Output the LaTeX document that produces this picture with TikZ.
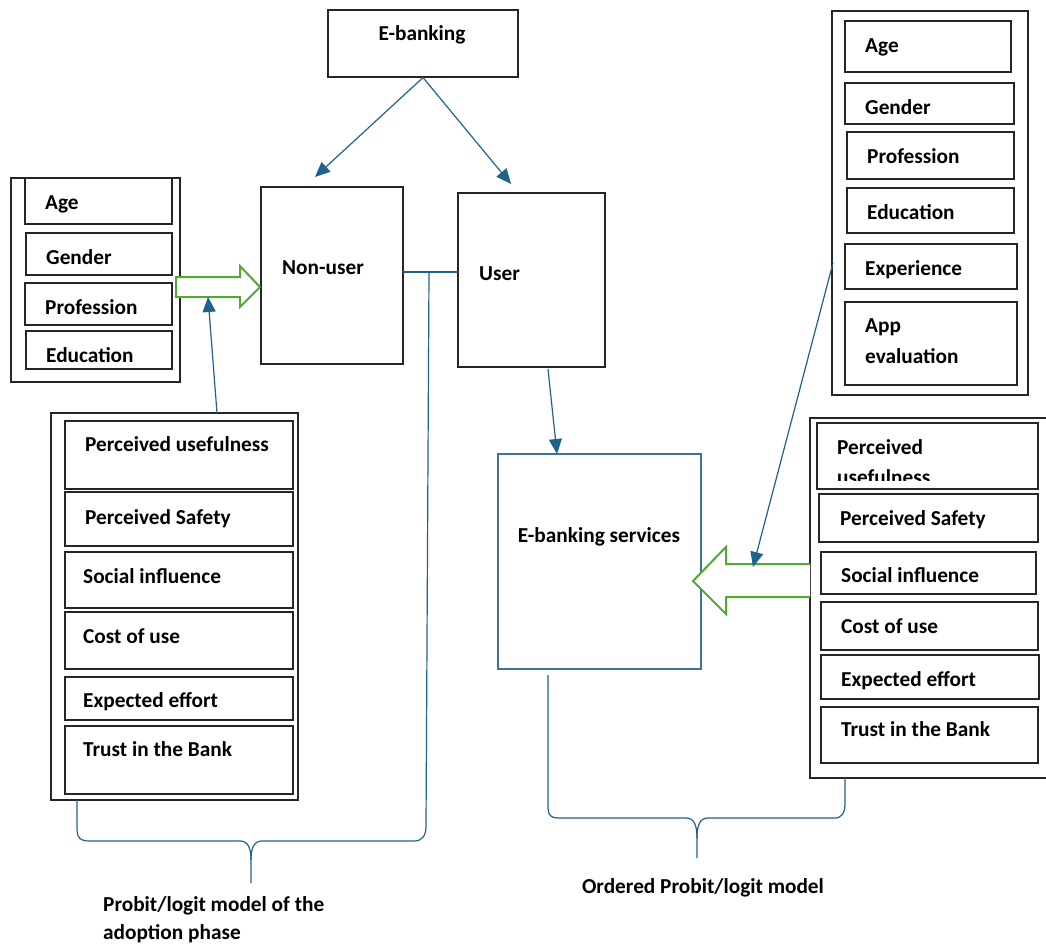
\documentclass[tikz,border=0pt]{standalone}
\usepackage{fontspec}
\setmainfont{Carlito}
\usetikzlibrary{fit,arrows.meta}
\definecolor{linkblue}{RGB}{31,99,140}
\definecolor{svcblue}{RGB}{65,113,156}
\definecolor{arrgreen}{RGB}{84,168,52}
\tikzset{
  bx/.style={draw=black!85, line width=1.1pt, inner sep=0pt},
  grp/.style={draw=black!85, line width=1.1pt, inner sep=0pt},
  txt/.style={anchor=mid west, inner sep=0pt, yshift=-5pt, font=\bfseries\fontsize{21.3}{30}\selectfont},
  ctxt/.style={anchor=mid, inner sep=0pt, yshift=-5pt, font=\bfseries\fontsize{21.3}{30}\selectfont},
  conn/.style={draw=linkblue, line width=1.2pt},
  arr/.style={conn, -{Triangle[length=15pt,width=13pt]}},
  hollow/.style={draw=arrgreen, line width=2pt, fill=white, line join=miter}
}
\begin{document}
\begin{tikzpicture}[x=1pt,y=-1pt]
\useasboundingbox (0,0) rectangle (1046,947);
% top
\node[bx, fit={(328,10) (518,77)}] (eb) {};
\node[ctxt] (teb) at (422,33) {E-banking};
\node[bx, fit={(261,187) (403,364)}] (nu) {};
\node[txt] (tnu) at (282,267) {Non-user};
\node[bx, fit={(458,193) (605,367)}] (us) {};
\node[txt] (tus) at (479,273) {User};
\coordinate (nutip) at (315,177);
\coordinate (ustip) at (511,184);
\draw[arr] (eb.south) -- (nutip);
\draw[arr] (eb.south) -- (ustip);
% left demographics
\node[grp, fit={(11,178) (180,382)}] (ldem) {};
\node[bx, fit={(25,178) (172,224)}] (lage) {};
\node[bx, fit={(26,233) (172,275)}] (lgen) {};
\node[bx, fit={(25,283) (172,325)}] (lpro) {};
\node[bx, fit={(26,331) (172,369)}] (ledu) {};
\node[txt] at (45,202) {Age};
\node[txt] at (46,257) {Gender};
\node[txt] at (45,307) {Profession};
\node[txt] at (46,355) {Education};
% left factors
\node[grp, fit={(51,413) (298,800)}] (lfac) {};
\node[bx, fit={(65,421) (293,489)}] (lf1) {};
\node[bx, fit={(65,492) (293,546)}] (lf2) {};
\node[bx, fit={(65,552) (293,608)}] (lf3) {};
\node[bx, fit={(65,612) (293,669)}] (lf4) {};
\node[bx, fit={(65,677) (293,720)}] (lf5) {};
\node[bx, fit={(65,726) (293,794)}] (lf6) {};
\node[txt] at (85,444) {Perceived usefulness};
\node[txt] at (85,517) {Perceived Safety};
\node[txt] at (83,576) {Social influence};
\node[txt] at (83,636) {Cost of use};
\node[txt] at (83,700) {Expected effort};
\node[txt] at (83,749) {Trust in the Bank};
% left green arrow
\draw[hollow] (176,277) -- (240,277) -- (240,266) -- (260,287) -- (240,307) -- (240,297) -- (176,297) -- cycle;
\coordinate (lgtip) at (208,297);
\draw[arr] (217,413) -- (lgtip);
% link non-user / user and left brace
\coordinate (j) at (429,272);
\draw[conn] (403,272) -- (458,272);
\draw[conn] (77,800) -- (77,828) .. controls (77,838) and (80,841) .. (90,841) -- (240,841)
  .. controls (248,841) and (251,848) .. (251,860) -- (251,883);
\draw[conn] (251,860) .. controls (251,848) and (254,841) .. (262,841) -- (414,841)
  .. controls (422,841) and (426,836) .. (426,826) -- (j);
\node[txt] at (103,904) {Probit/logit model of the};
\node[txt] at (103,932) {adoption phase};
% e-banking services
\node[draw=svcblue, line width=1.2pt, inner sep=0pt, fit={(498,454) (701,669)}] (svc) {};
\node[ctxt] at (599,535) {E-banking services};
\coordinate (svtip) at (557,454);
\draw[arr] (548,369) -- (svtip);
% right demographics
\node[grp, fit={(832,11) (1028,395)}] (rdem) {};
\node[bx, fit={(845,21) (1011,72)}] {};
\node[bx, fit={(845,83) (1014,124)}] {};
\node[bx, fit={(847,132) (1014,179)}] {};
\node[bx, fit={(847,188) (1014,233)}] {};
\node[bx, fit={(845,244) (1017,289)}] {};
\node[bx, fit={(845,302) (1017,385)}] {};
\node[txt] at (865,45) {Age};
\node[txt] at (865,107) {Gender};
\node[txt] at (867,156) {Profession};
\node[txt] at (867,212) {Education};
\node[txt] at (865,268) {Experience};
\node[txt] at (865,325) {App};
\node[txt] at (865,356) {evaluation};
% right factors
\draw[draw=black!85, line width=1.1pt] (1046,418) -- (810,418) -- (810,778) -- (1046,778);
\node[bx, fit={(817,423) (1038,489)}] {};
\node[bx, fit={(819,494) (1038,542)}] {};
\node[bx, fit={(821,552) (1036,594)}] {};
\node[bx, fit={(821,602) (1038,650)}] {};
\node[bx, fit={(821,655) (1039,699)}] {};
\node[bx, fit={(821,707) (1038,763)}] {};
\node[txt] at (837,447) {Perceived};
\begin{scope}
\clip (818,460) rectangle (1037,480.5);
\node[txt] at (837,477) {usefulness};
\end{scope}
\node[txt] at (840,518) {Perceived Safety};
\node[txt] at (841,575) {Social influence};
\node[txt] at (841,626) {Cost of use};
\node[txt] at (841,679) {Expected effort};
\node[txt] at (841,729) {Trust in the Bank};
% right green arrow
\draw[hollow] (810,564) -- (726,564) -- (726,547) -- (693,581) -- (726,614) -- (726,597) -- (810,597);
\coordinate (rgtip) at (753,567);
\draw[arr] (833,263) -- (rgtip);
% right brace
\draw[conn] (548,675) -- (548,808) .. controls (548,815) and (551,818) .. (558,818) -- (686,818)
  .. controls (694,818) and (697,825) .. (697,838) -- (697,858);
\draw[conn] (697,838) .. controls (697,825) and (700,818) .. (708,818) -- (835,818)
  .. controls (842,818) and (845,812) .. (845,805) -- (845,778);
\node[ctxt] at (703,886) {Ordered Probit/logit model};
\end{tikzpicture}
\end{document}
